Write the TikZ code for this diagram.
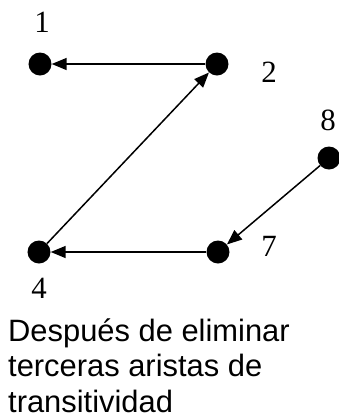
\documentclass[tikz,border=0pt]{standalone}
\usepackage{fontspec}
\setmainfont{Liberation Serif}
\newfontfamily\arialfont{Liberation Sans}
\usetikzlibrary{arrows.meta}
\begin{document}
\begin{tikzpicture}[x=1bp,y=-1bp,
  vertex/.style={circle,fill=black,inner sep=0pt,minimum size=23bp},
  vlabel/.style={font=\fontsize{31}{34}\selectfont,inner sep=0pt},
  edge/.style={line width=1.5bp,-{Triangle[length=15bp,width=12bp]}}]
\useasboundingbox (0,0) rectangle (339,419);
\node[vertex] (n1) at (40,64) {};
\node[vertex] (n2) at (217,64) {};
\node[vertex] (n8) at (329,158) {};
\node[vertex] (n7) at (218,252) {};
\node[vertex] (n4) at (39,252) {};
\node[vlabel] (l1) at (42,22) {1};
\node[vlabel] (l2) at (269,72) {2};
\node[vlabel] (l8) at (328,120) {8};
\node[vlabel] (l7) at (269,246) {7};
\node[vlabel] (l4) at (39,288) {4};
\draw[edge] (n2) -- (n1);
\draw[edge] (n4) -- (n2);
\draw[edge] (n8) -- (n7);
\draw[edge] (n7) -- (n4);
\node[anchor=base west,inner sep=0pt,align=left,font=\arialfont\fontsize{31}{35.5}\selectfont] (cap) at (8,412) {Después de eliminar\\terceras aristas de\\transitividad};
\end{tikzpicture}
\end{document}
